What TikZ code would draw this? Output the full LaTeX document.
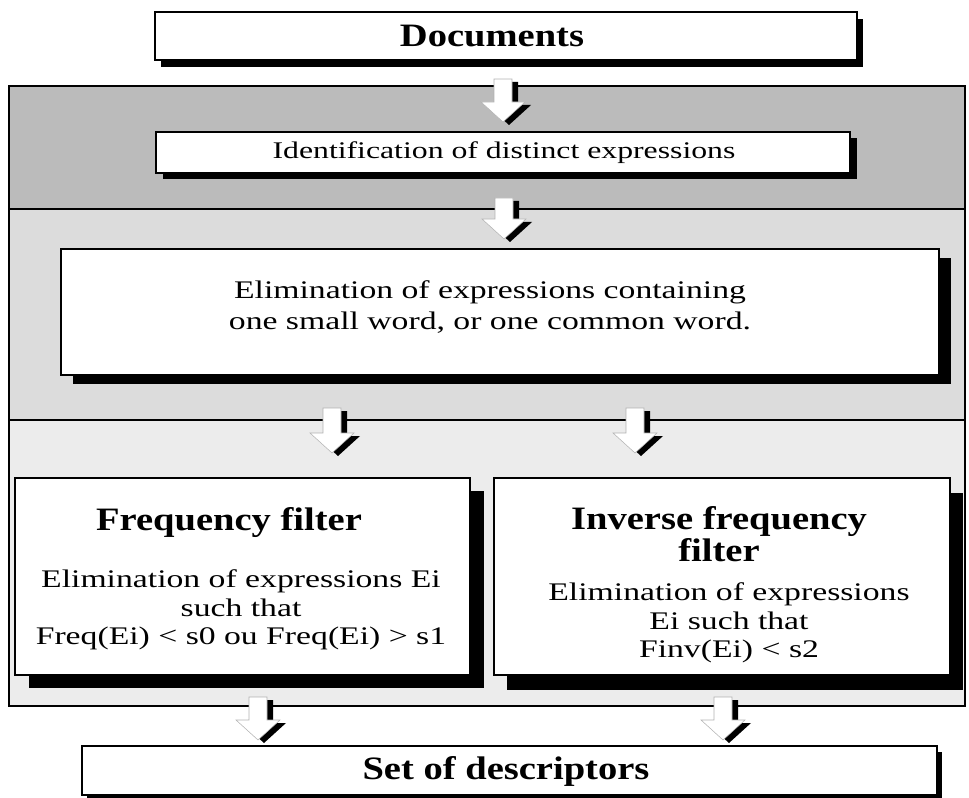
\documentclass[tikz,border=0pt]{standalone}
\usepackage{fontspec}
\setmainfont{Liberation Serif}
\newfontfamily\bodyfont{Liberation Serif}[FakeStretch=1.33]
\newfontfamily\headfont{Liberation Serif}[FakeStretch=1.18]
\usetikzlibrary{fit,shadows,calc}

\definecolor{bandA}{HTML}{BBBBBB}
\definecolor{bandB}{HTML}{DCDCDC}
\definecolor{bandC}{HTML}{ECECEC}

\tikzset{
  panel/.style={inner sep=0pt, outer sep=0pt},
  box/.style={draw=black, line width=1.3pt, fill=white, inner sep=0pt},
  shadowed/.style 2 args={drop shadow={shadow xshift=#1, shadow yshift=#2, fill=black, opacity=1}},
  headtext/.style={font=\headfont\bfseries\fontsize{24.5}{22.5}\selectfont, align=center, inner sep=0pt},
  bodytext/.style={font=\bodyfont\fontsize{19}{21.5}\selectfont, align=center, inner sep=0pt},
  arrowwhite/.style={fill=white, draw=gray!60, line width=0.4pt},
  arrowshade/.style={fill=black},
}

% block arrow from tail coordinate #1 down to tip coordinate #2,
% with its black shade set 6 units right and 3 units down
\newcommand\blockarrow[2]{%
  \fill[arrowshade]
    ($(#1)+(-3,3)$) -- ($(#1)+(15,3)$) -- ($(#2)+(15,-17)$) -- ($(#2)+(28,-17)$)
    -- ($(#2)+(6,3)$) -- ($(#2)+(-16,-17)$) -- ($(#2)+(-3,-17)$) -- cycle;
  \filldraw[arrowwhite]
    ($(#1)+(-9,0)$) -- ($(#1)+(9,0)$) -- ($(#2)+(9,-20)$) -- ($(#2)+(22,-20)$)
    -- (#2) -- ($(#2)+(-22,-20)$) -- ($(#2)+(-9,-20)$) -- cycle;
}

\begin{document}
\begin{tikzpicture}[x=0.75pt, y=-0.75pt]
  \useasboundingbox (0,0) rectangle (969,798);

  % three stages of the process
  \node[panel, fill=bandA, fit={(9,86) (965,209)}] (stageA) {};
  \node[panel, fill=bandB, fit={(9,209) (965,420)}] (stageB) {};
  \node[panel, fill=bandC, fit={(9,420) (965,706)}] (stageC) {};
  \draw[line width=1.3pt] (stageA.south west) -- (stageA.south east);
  \draw[line width=1.3pt] (stageB.south west) -- (stageB.south east);
  \draw[line width=1.3pt] (stageA.north west) rectangle (stageC.south east);

  % arrow end points
  \coordinate (a1t) at (503,79);  \coordinate (a1h) at (503,122);
  \coordinate (a2t) at (504,198); \coordinate (a2h) at (504,239);
  \coordinate (a3t) at (332,408); \coordinate (a3h) at (332,453);
  \coordinate (a4t) at (635,408); \coordinate (a4h) at (635,453);
  \coordinate (a5t) at (258,697); \coordinate (a5h) at (258,740);
  \coordinate (a6t) at (723,697); \coordinate (a6h) at (723,740);

  \blockarrow{a1t}{a1h}
  \blockarrow{a2t}{a2h}
  \blockarrow{a3t}{a3h}
  \blockarrow{a4t}{a4h}
  \blockarrow{a5t}{a5h}
  \blockarrow{a6t}{a6h}

  % boxes
  \node[box, shadowed={4.5pt}{-5pt}, fit={(155,12) (857,60)}] (docs) {};
  \node[headtext] (docsT) at (492,36) {Documents};

  \node[box, shadowed={5pt}{-4.5pt}, fit={(156,132) (850,173)}] (ident) {};
  \node[bodytext, font=\bodyfont\fontsize{17.9}{20}\selectfont] (identT) at (504,153) {Identification of distinct expressions};

  \node[box, shadowed={9pt}{-7pt}, fit={(61,249) (939,375)}] (elim) {};
  \node[bodytext, font=\bodyfont\fontsize{19}{23.5}\selectfont] (elimT) at (490,307)
    {Elimination of expressions containing\\one small word, or one common word.};

  \node[box, shadowed={10.5pt}{-10pt}, fit={(15,478) (470,675)}] (freq) {};
  \node[headtext] (freqH) at (229,523) {Frequency filter};
  \node[bodytext] (freqB) at (241,610)
    {Elimination of expressions Ei\\such that\\Freq(Ei) < s0 ou Freq(Ei) > s1};

  \node[box, shadowed={10pt}{-11pt}, fit={(494,478) (950,675)}] (inv) {};
  \node[headtext] (invH) at (719,534) {Inverse frequency\\filter};
  \node[bodytext] (invB) at (729,623)
    {Elimination of expressions\\Ei such that\\Finv(Ei) < s2};

  \node[box, shadowed={4pt}{-4.5pt}, fit={(82,746) (937,795)}] (desc) {};
  \node[headtext] (descT) at (506,771) {Set of descriptors};
\end{tikzpicture}
\end{document}
